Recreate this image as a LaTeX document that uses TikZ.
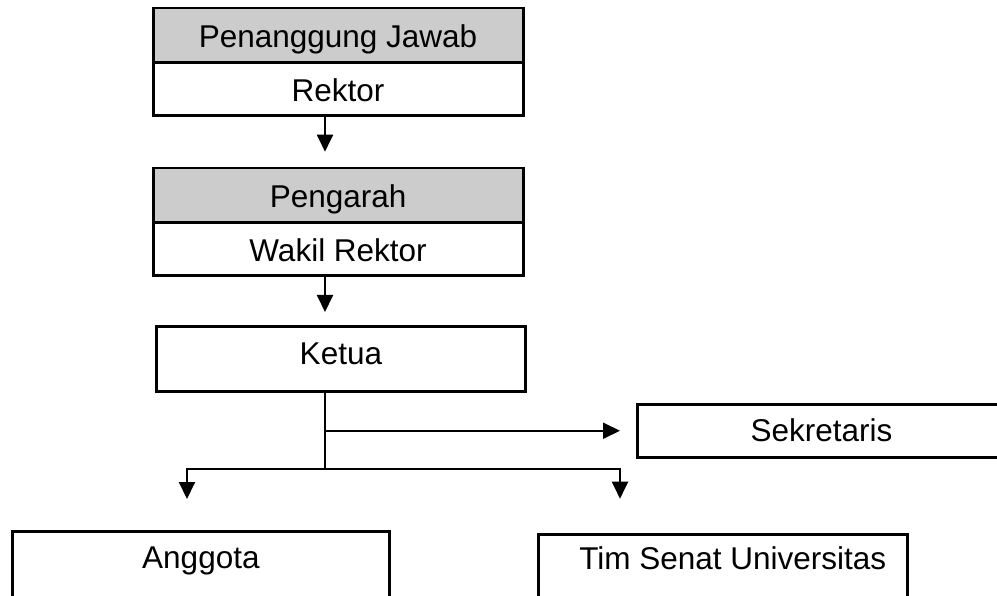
\documentclass[tikz,border=0pt]{standalone}
\usepackage{fontspec}
\setmainfont{Liberation Sans}
\usetikzlibrary{arrows.meta}
\definecolor{hdr}{RGB}{204,204,204}
\begin{document}
\begin{tikzpicture}[x=1pt,y=-1pt,
  box/.style={draw=black, line width=2.8pt, inner sep=0pt, anchor=north west,
              font=\fontsize{31.5}{36}\selectfont, align=center},
  hdrbox/.style={box, fill=hdr},
  conn/.style={line width=2pt, -{Triangle[length=17pt,width=16pt]}},
  plain/.style={line width=2pt}]
\useasboundingbox (0,0) rectangle (997,596);
\clip (0,0) rectangle (997,596);
% boxes
\node[hdrbox, minimum width=370pt, text height=39pt, text depth=15.3pt] (pj) at (151.7,6.7) {Penanggung Jawab};
\node[box, minimum width=370pt, text height=39pt, text depth=14pt] (rk) at (151.7,61) {Rektor};
\node[hdrbox, minimum width=370pt, text height=39pt, text depth=15.3pt] (pg) at (151.7,166.7) {Pengarah};
\node[box, minimum width=370pt, text height=39pt, text depth=14pt] (wr) at (151.7,221) {Wakil Rektor};
\node[box, minimum width=369pt, text height=38pt, text depth=27pt] (kt) at (155,325) {Ketua};
\node[box, minimum width=368pt, text height=37.3pt, text depth=16pt] (sk) at (636,402.7) {Sekretaris};
\node[box, minimum width=377pt, text height=37pt, text depth=43pt] (ag) at (11,530) {Anggota};
\node[box, minimum width=369.3pt, text height=35.6pt, text depth=42pt] (tm) at (536.7,532.7) {\hspace*{20pt}Tim Senat Universitas};
% connectors
\coordinate (spine) at (325,0);
\coordinate (br) at (325,469);
\coordinate (la) at (187,469);
\coordinate (ra) at (620,469);
\draw[conn, shorten >=15pt] (rk.south -| spine) -- (pg.north -| spine);
\draw[conn, shorten >=13pt] (wr.south -| spine) -- (kt.north -| spine);
\draw[plain] (kt.south -| spine) -- (br);
\draw[conn, shorten >=16pt] (spine |- sk.west) -- (sk.west);
\draw[conn, shorten >=31pt] (br) -| (la |- ag.north);
\draw[conn, shorten >=34pt] (br) -| (ra |- tm.north);
\end{tikzpicture}
\end{document}
